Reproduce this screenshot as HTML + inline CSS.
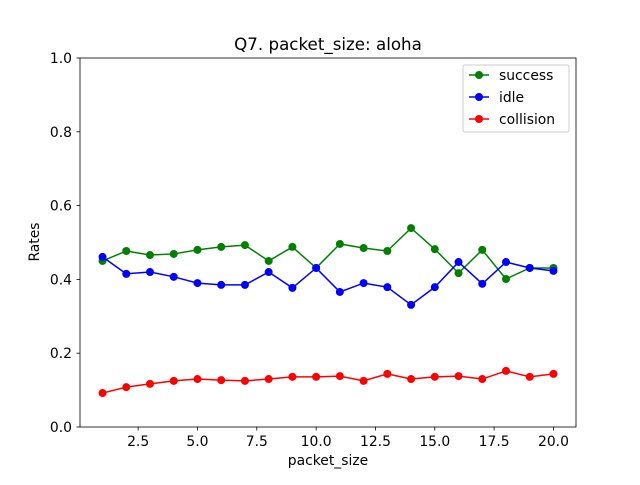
<!DOCTYPE html>
<html><head><meta charset="utf-8"><style>
body{margin:0;background:#fff;font-family:"Liberation Sans","DejaVu Sans",sans-serif}
svg text{font-family:"DejaVu Sans","Liberation Sans",sans-serif}
</style></head><body>
<svg id="chart" width="640" height="480" xmlns="http://www.w3.org/2000/svg">
<rect width="640" height="480" fill="#fff"/>
<text x="328" y="50" font-size="16.7" text-anchor="middle">Q7. packet_size: aloha</text>
<text x="328" y="465" font-size="13.9" text-anchor="middle">packet_size</text>
<text transform="translate(39,242) rotate(-90)" font-size="13.9" text-anchor="middle">Rates</text>
<g id="ticks"></g>
<g id="series"></g>
<rect x="80" y="58" width="496" height="369" fill="none" stroke="#000" stroke-width="0.8"/>
<g>
<rect x="463" y="65" width="106" height="67" fill="#fff" fill-opacity="0.8" stroke="#ccc" rx="2"/>
<g id="legend"></g>
</g>
</svg>
<script>
const xs=[1,2,3,4,5,6,7,8,9,10,11,12,13,14,15,16,17,18,19,20];
const success=[0.450,0.477,0.466,0.469,0.480,0.488,0.493,0.450,0.488,0.431,0.496,0.485,0.477,0.539,0.482,0.417,0.480,0.401,0.431,0.431];
const idle=[0.461,0.415,0.420,0.407,0.390,0.385,0.385,0.420,0.377,0.431,0.366,0.390,0.379,0.331,0.379,0.447,0.388,0.447,0.431,0.423];
const collision=[0.092,0.108,0.117,0.125,0.130,0.127,0.125,0.130,0.136,0.136,0.138,0.125,0.144,0.130,0.136,0.138,0.130,0.152,0.136,0.144];
const xTicks=[2.5,5.0,7.5,10.0,12.5,15.0,17.5,20.0];
const yTicks=[0.0,0.2,0.4,0.6,0.8,1.0];
const names=["success","idle","collision"];
const NS="http://www.w3.org/2000/svg";
const X=v=>80+(v-0.05)/20.9*496;
const Y=v=>427-v*369;
function mk(t,a,p){const e=document.createElementNS(NS,t);for(const k in a)e.setAttribute(k,a[k]);p.appendChild(e);return e;}
const tk=document.getElementById('ticks');
xTicks.forEach(v=>{
 const l=mk('line',{x1:X(v),x2:X(v),y1:427,y2:430.5,stroke:'#000','stroke-width':0.8},tk);
 
 
 const t=mk('text',{x:X(v),y:446,'font-size':13.9,'text-anchor':'middle'},tk);t.textContent=v.toFixed(1);
 
 
});
yTicks.forEach(v=>{
 const l=mk('line',{x1:76.5,x2:80,y1:Y(v),y2:Y(v),stroke:'#000','stroke-width':0.8},tk);
 
 
 const t=mk('text',{x:72,y:Y(v)+5,'font-size':13.9,'text-anchor':'end'},tk);t.textContent=v.toFixed(1);
 
 
});
const sg=document.getElementById('series');
[[success,'green'],[idle,'blue'],[collision,'red']].forEach(([d,c],i)=>{
 const g=mk('g',{},sg);
 
 
 mk('polyline',{points:xs.map((x,j)=>X(x)+','+Y(d[j])).join(' '),fill:'none',stroke:c,'stroke-width':1.5},g);
 xs.forEach((x,j)=>{const p=mk('circle',{cx:X(x),cy:Y(d[j]),r:4,fill:c},g);
  
  });
});
const lg=document.getElementById('legend');
['green','blue','red'].forEach((c,i)=>{
 const y=75+i*22;
 const g=mk('g',{},lg);
 
 
 mk('line',{x1:469,x2:489,y1:y,y2:y,stroke:c,'stroke-width':1.5},g);
 mk('circle',{cx:479,cy:y,r:4,fill:c},g);
 const t=mk('text',{x:499,y:y+5,'font-size':13.9},g);t.textContent=names[i];
});
</script>
</body></html>
